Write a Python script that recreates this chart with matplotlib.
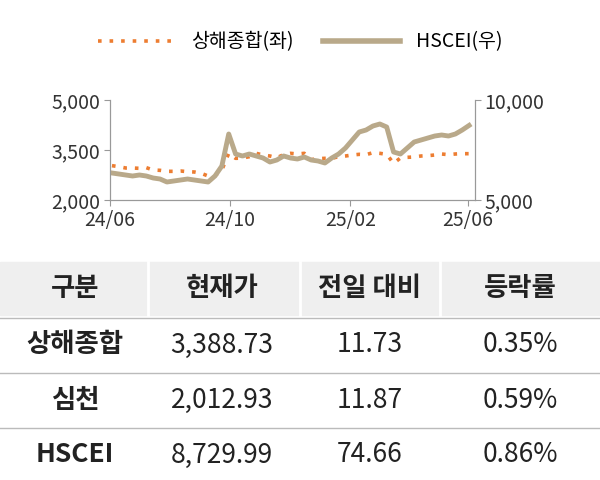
import matplotlib
matplotlib.use("Agg")
import matplotlib.pyplot as plt
import pandas as pd
from matplotlib.patches import Rectangle
from matplotlib.lines import Line2D

plt.rcParams["font.family"] = "Noto Sans CJK KR"

hscei = [6350,6300,6250,6200, 6250,6200,6100,6050, 5900,5950,6000,6050,6000,
         5950,5900,6200,6700, 8300,7300,7200,7300, 7200,7100,6900,7000,
         7200,7100,7050,7150, 7000,6950,6850,7100, 7300,7600,8000,8400,
         8500,8700,8800,8650, 7400,7300,7600,7900, 8000,8100,8200,8250,
         8200,8300,8500,8730]
shanghai = [3030,3000,2960,2960, 2950,2970,2900,2890, 2860,2860,2870,2850,2840,
            2800,2720,2730,2900, 3400,3250,3260,3300, 3400,3350,3320,3270,
            3360,3400,3380,3400, 3210,3240,3250,3250, 3300,3320,3350,3370,
            3360,3420,3400,3370, 3100,3260,3280,3290, 3320,3330,3350,3380,
            3360,3380,3390,3389]
dates = pd.date_range("2024-06-03", periods=len(hscei), freq="7D")
xticks = ["2024-06-01", "2024-10-01", "2025-02-01", "2025-06-01"]
xticklabels = ["24/06", "24/10", "25/02", "25/06"]

header = ["구분", "현재가", "전일 대비", "등락률"]
rows = [["상해종합", "3,388.73", "11.73", "0.35%"],
        ["심천", "2,012.93", "11.87", "0.59%"],
        ["HSCEI", "8,729.99", "74.66", "0.86%"]]

W, H = 600, 480
fig = plt.figure(figsize=(6, 4.8), dpi=100)
orange = "#ED7D31"; tan = "#B9A98A"; gray = "#999999"

ax = fig.add_axes([110/W, 1-200/H, 365/W, 100/H])
ax.plot(dates, shanghai, linestyle=(0, (1, 2.2)), color=orange, lw=2.6)
ax.set_ylim(2000, 5000)
ax.set_yticks([2000, 3500, 5000])
ax.set_yticklabels(["2,000", "3,500", "5,000"])
ax2 = ax.twinx()
ax2.plot(dates, hscei, color=tan, lw=3.5)
ax2.set_ylim(5000, 10000)
ax2.set_yticks([5000, 10000])
ax2.set_yticklabels(["5,000", "10,000"])
ax.set_xlim(pd.Timestamp("2024-06-01"), pd.Timestamp("2025-06-08"))
ax.set_xticks(pd.to_datetime(xticks))
ax.set_xticklabels(xticklabels)
for a in (ax, ax2):
    a.spines["top"].set_visible(False)
    for s in ("left", "right", "bottom"):
        a.spines[s].set_color(gray)
    a.tick_params(labelsize=14, color=gray, length=4, labelcolor="#333333", pad=3)

handles = [Line2D([], [], linestyle=(0, (1, 2.2)), color=orange, lw=2.6),
           Line2D([], [], color=tan, lw=4)]
fig.legend(handles, ["상해종합(좌)", "HSCEI(우)"], loc="center", bbox_to_anchor=(0.5, 1-42/H),
           ncol=2, frameon=False, fontsize=14, handlelength=4, columnspacing=1.5)

fig.patches.append(Rectangle((0, 1-315/H), 1, 53/H, transform=fig.transFigure,
                             color="#EFEFEF", zorder=0))
for x in (148, 300, 440):
    fig.add_artist(Line2D([x/W, x/W], [1-315/H, 1-262/H], color="white", lw=2))
for y in (318, 373, 428):
    fig.add_artist(Line2D([0, 1], [1-y/H, 1-y/H], color="#BBBBBB", lw=1))
cx = [75, 222, 370, 520]
for c, t in zip(cx, header):
    fig.text(c/W, 1-288/H, t, ha="center", va="center", fontsize=19, weight="bold", color="#222222")
for ry, r in zip([345, 400, 455], rows):
    for i, (c, t) in enumerate(zip(cx, r)):
        fig.text(c/W, 1-ry/H, t, ha="center", va="center", fontsize=19,
                 weight="bold" if i == 0 else "normal", color="#222222")

fig.savefig("out.png", dpi=100)
